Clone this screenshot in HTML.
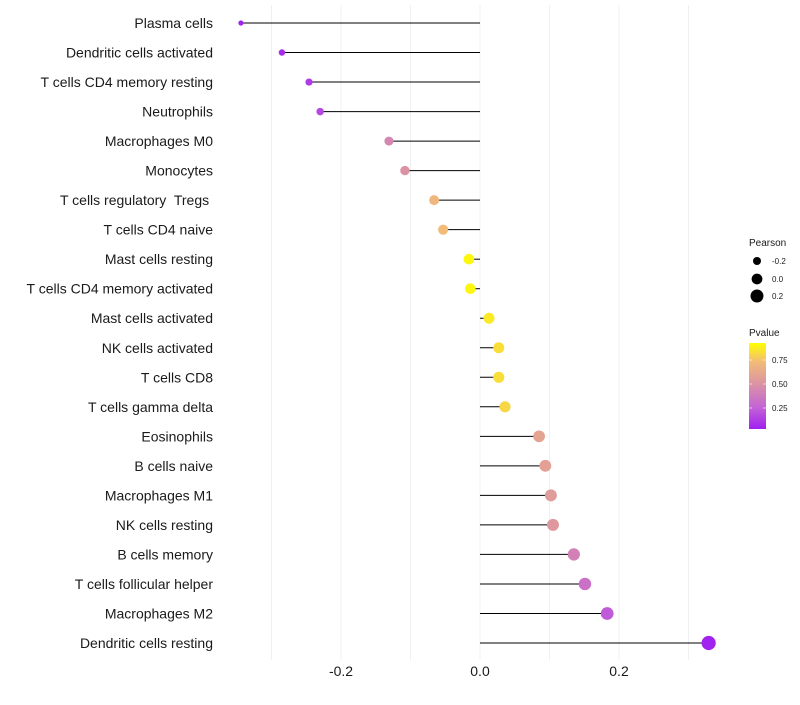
<!DOCTYPE html>
<html><head><meta charset="utf-8"><style>
body{margin:0;background:#fff;font-family:"Liberation Sans",Arial,sans-serif}
text{white-space:pre}
</style></head><body>
<svg id="chart" width="800" height="700" xmlns="http://www.w3.org/2000/svg">
<defs><linearGradient id="pg" x1="0" y1="1" x2="0" y2="0">
<stop offset="0" stop-color="#a020f0"/><stop offset="0.25" stop-color="#c363d6"/><stop offset="0.5" stop-color="#d98fa8"/><stop offset="0.78" stop-color="#f2bb78"/><stop offset="1" stop-color="#ffff00"/>
</linearGradient></defs>
<g id="grid"></g><g id="marks"></g><g id="labels"></g><g id="legend"></g>
</svg>
<script>
const categories=["Plasma cells","Dendritic cells activated","T cells CD4 memory resting","Neutrophils","Macrophages M0","Monocytes","T cells regulatory  Tregs ","T cells CD4 naive","Mast cells resting","T cells CD4 memory activated","Mast cells activated","NK cells activated","T cells CD8","T cells gamma delta","Eosinophils","B cells naive","Macrophages M1","NK cells resting","B cells memory","T cells follicular helper","Macrophages M2","Dendritic cells resting"];
const pearson=[-0.344,-0.285,-0.246,-0.230,-0.131,-0.108,-0.066,-0.053,-0.016,-0.014,0.013,0.027,0.027,0.036,0.085,0.094,0.102,0.105,0.135,0.151,0.183,0.329];
const pvalue=[0.01,0.05,0.1,0.15,0.45,0.52,0.72,0.75,0.97,0.97,0.92,0.88,0.88,0.85,0.62,0.6,0.57,0.55,0.42,0.33,0.22,0.01];
const xTicks=[-0.2,0.0,0.2];
const xTickLabels=["-0.2","0.0","0.2"];
const gridVals=[-0.3,-0.2,-0.1,0,0.1,0.2,0.3];
const NS="http://www.w3.org/2000/svg";
const X=v=>480+v*695;
const Y=i=>23+i*(620/21);
const R=p=>Math.sqrt(Math.max(2,29+65*p));
const cstops=[[0,[160,32,240]],[0.25,[195,99,214]],[0.5,[217,143,168]],[0.75,[242,187,120]],[1,[255,255,0]]];
function col(p){for(let k=1;k<cstops.length;k++){if(p<=cstops[k][0]){const a=cstops[k-1],b=cstops[k];const t=(p-a[0])/(b[0]-a[0]);return 'rgb('+a[1].map((c,j)=>Math.round(c+(b[1][j]-c)*t)).join(',')+')';}}return 'rgb(255,255,0)';}
function mk(tag,attrs,parent,text){const e=document.createElementNS(NS,tag);for(const k in attrs)e.setAttribute(k,attrs[k]);if(text!==undefined)e.textContent=text;document.getElementById(parent).appendChild(e);return e;}
gridVals.forEach(v=>{const l=mk('line',{x1:X(v),x2:X(v),y1:5,y2:660,stroke:'#f0f0f0','stroke-width':1},'grid');

});
xTicks.forEach((v,i)=>{const t=mk('text',{x:X(v),y:676,'text-anchor':'middle','font-size':14,fill:'#1a1a1a'},'labels',xTickLabels[i]);

});
categories.forEach((c,i)=>{
const t=mk('text',{x:213,y:Y(i)+5,'text-anchor':'end','font-size':14,fill:'#1a1a1a','xml:space':'preserve'},'labels',c);


const l=mk('line',{x1:X(0),x2:X(pearson[i]),y1:Y(i),y2:Y(i),stroke:'#000','stroke-width':1},'marks');


const d=mk('circle',{cx:X(pearson[i]),cy:Y(i),r:R(pearson[i]),fill:col(pvalue[i])},'marks');


});
const lg=[[-0.2,261],[0,279],[0.2,296]];
const pt=mk('text',{x:749,y:246,'font-size':10,fill:'#1a1a1a'},'legend','Pearson');


lg.forEach(([v,y],i)=>{const c=mk('circle',{cx:757,cy:y,r:R(v),fill:'#000'},'legend');


const t=mk('text',{x:772,y:y+3,'font-size':8,fill:'#1a1a1a'},'legend',xTickLabels[i]);

});
const ct=mk('text',{x:749,y:336,'font-size':10,fill:'#1a1a1a'},'legend','Pvalue');


const bar=mk('rect',{x:749,y:343,width:17,height:86,fill:'url(#pg)'},'legend');


[[0.75,360],[0.5,384],[0.25,408]].forEach(([v,y])=>{
mk('line',{x1:749,x2:752,y1:y,y2:y,stroke:'#fff','stroke-width':0.6},'legend');
mk('line',{x1:763,x2:766,y1:y,y2:y,stroke:'#fff','stroke-width':0.6},'legend');
const t=mk('text',{x:772,y:y+3,'font-size':8,fill:'#1a1a1a'},'legend',v.toFixed(2));

});
</script>
</body></html>
